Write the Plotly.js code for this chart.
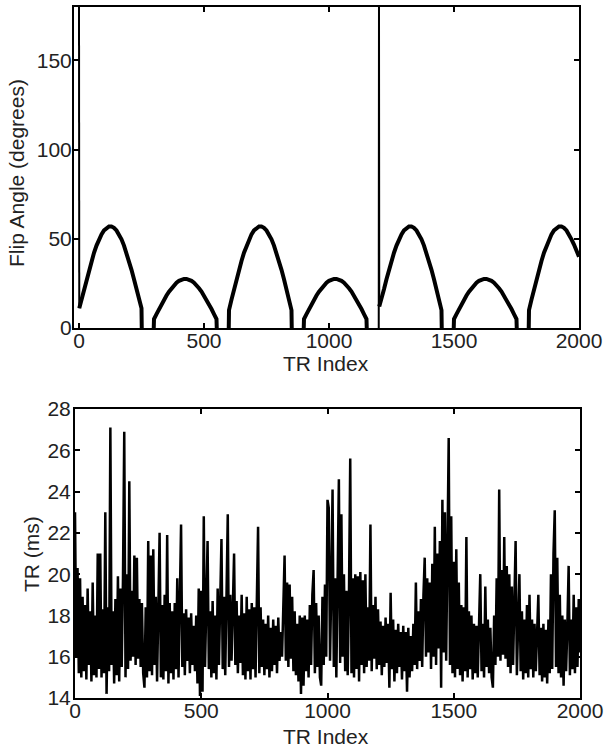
<!DOCTYPE html>
<html>
<head>
<meta charset="utf-8">
<script src="https://cdn.plot.ly/plotly-3.0.1.min.js"></script>
<style>html,body{margin:0;padding:0;background:#fff;}#chart{width:610px;height:750px;}</style>
</head>
<body>
<div id="chart"></div>
<script>
// ---- Flip angle series (TR index, degrees) ----
// null = stretch resting at 0 degrees between lobes (hidden under the axis line)
const faIndex = [
  0, 1, 10, 20, 30, 40, 50, 60, 70, 80, 90, 100, 110, 120, 130, 140, 150, 160, 170, 180, 190, 200, 210, 220, 230, 240, 250,
  251, 275, 299,
  300, 310, 320, 330, 340, 350, 360, 370, 380, 390, 400, 410, 420, 430, 440, 450, 460, 470, 480, 490, 500, 510, 520, 530, 540, 550,
  551, 575, 599,
  600, 610, 620, 630, 640, 650, 660, 670, 680, 690, 700, 710, 720, 730, 740, 750, 760, 770, 780, 790, 800, 810, 820, 830, 840, 850,
  851, 875, 899,
  900, 910, 920, 930, 940, 950, 960, 970, 980, 990, 1000, 1010, 1020, 1030, 1040, 1050, 1060, 1070, 1080, 1090, 1100, 1110, 1120, 1130, 1140, 1150,
  1151, 1175, 1199, 1200,
  1201, 1210, 1220, 1230, 1240, 1250, 1260, 1270, 1280, 1290, 1300, 1310, 1320, 1330, 1340, 1350, 1360, 1370, 1380, 1390, 1400, 1410, 1420, 1430, 1440, 1450,
  1451, 1475, 1499,
  1500, 1510, 1520, 1530, 1540, 1550, 1560, 1570, 1580, 1590, 1600, 1610, 1620, 1630, 1640, 1650, 1660, 1670, 1680, 1690, 1700, 1710, 1720, 1730, 1740, 1750,
  1751, 1775, 1799,
  1800, 1810, 1820, 1830, 1840, 1850, 1860, 1870, 1880, 1890, 1900, 1910, 1920, 1930, 1940, 1950, 1960, 1970, 1980, 1990, 2000
];
const faDeg = [
  180, 11, 15.9, 21.7, 27.3, 32.6, 37.6, 42.2, 46.2, 49.7, 52.5, 54.7, 56.2, 56.9, 56.9, 56.2, 54.7, 52.5, 49.7, 46.2, 42.2, 37.6, 32.6, 27.3, 21.7, 15.9, 11,
  0, null, 0,
  5, 7.8, 10.6, 13.3, 15.8, 18.2, 20.4, 22.3, 24.0, 25.4, 26.4, 27.1, 27.5, 27.5, 27.1, 26.4, 25.4, 24.0, 22.3, 20.4, 18.2, 15.8, 13.3, 10.6, 7.8, 5,
  0, null, 0,
  10, 15.9, 21.7, 27.3, 32.6, 37.6, 42.2, 46.2, 49.7, 52.5, 54.7, 56.2, 56.9, 56.9, 56.2, 54.7, 52.5, 49.7, 46.2, 42.2, 37.6, 32.6, 27.3, 21.7, 15.9, 10,
  0, null, 0,
  5, 7.8, 10.6, 13.3, 15.8, 18.2, 20.4, 22.3, 24.0, 25.4, 26.4, 27.1, 27.5, 27.5, 27.1, 26.4, 25.4, 24.0, 22.3, 20.4, 18.2, 15.8, 13.3, 10.6, 7.8, 5,
  0, null, 0, 180,
  12, 15.9, 21.7, 27.3, 32.6, 37.6, 42.2, 46.2, 49.7, 52.5, 54.7, 56.2, 56.9, 56.9, 56.2, 54.7, 52.5, 49.7, 46.2, 42.2, 37.6, 32.6, 27.3, 21.7, 15.9, 10,
  0, null, 0,
  5, 7.8, 10.6, 13.3, 15.8, 18.2, 20.4, 22.3, 24.0, 25.4, 26.4, 27.1, 27.5, 27.5, 27.1, 26.4, 25.4, 24.0, 22.3, 20.4, 18.2, 15.8, 13.3, 10.6, 7.8, 5,
  0, null, 0,
  10, 15.9, 21.7, 27.3, 32.6, 37.6, 42.2, 46.2, 49.7, 52.5, 54.7, 56.2, 56.9, 56.9, 56.2, 54.7, 52.5, 49.7, 46.8, 43.5, 40.0
];
const pulseDeg = 180;   // inversion pulses in the flip-angle train

// ---- TR series (ms), one reading every 5 TR indices from 0 to 2000 ----
const trStep = 5;
const trMs = [
  23.0,16.0,20.3,15.2,19.8,15.0,18.9,15.3,18.5,14.9,19.3,15.6,18.2,14.8,19.6,15.1,18.0,15.0,21.0,15.4,
  21.0,15.0,18.3,15.2,23.0,14.2,18.4,15.3,27.1,15.6,18.2,14.7,18.8,15.1,19.9,14.8,19.3,15.5,19.8,26.9,
  15.0,20.0,15.4,24.5,15.8,19.2,16.0,20.9,15.6,20.8,15.9,18.8,15.5,18.6,15.2,14.5,18.4,15.0,21.6,15.3,
  20.9,15.1,21.2,15.6,18.9,14.8,18.3,22.0,15.0,18.5,14.9,19.0,15.3,21.9,14.7,18.6,15.2,18.2,14.9,18.6,
  15.4,19.8,15.0,18.4,22.4,15.5,18.1,15.1,18.3,15.8,17.9,15.2,18.1,15.6,17.5,15.3,18.0,14.7,19.3,14.1,
  19.2,14.3,22.8,15.5,18.4,21.6,15.4,18.2,15.0,18.7,15.2,18.0,14.9,19.3,15.6,18.5,21.7,15.4,18.9,15.1,
  19.8,22.9,15.5,19.0,15.8,18.4,21.0,15.6,18.7,15.2,18.0,15.7,19.0,15.1,18.1,14.9,18.9,15.3,18.3,14.9,
  18.6,15.4,18.4,15.0,18.5,22.3,15.2,18.4,15.5,17.8,15.1,17.6,15.4,18.0,15.0,17.4,15.3,17.8,15.6,17.5,
  15.2,17.9,15.8,17.2,16.0,19.1,20.9,15.8,19.6,15.5,19.5,15.9,18.9,15.3,18.2,15.1,17.6,14.8,18.0,14.2,
  17.9,14.6,18.0,15.3,17.8,15.0,18.5,15.6,19.0,20.2,15.2,18.6,15.5,18.0,15.0,14.6,18.9,15.6,19.5,16.0,
  23.6,23.2,15.8,19.4,24.1,15.5,19.8,15.0,20.2,24.6,15.7,22.9,16.0,20.0,15.3,19.2,15.1,19.0,25.6,15.2,
  19.8,15.0,20.0,15.4,19.9,14.8,20.1,15.6,19.7,15.2,20.0,15.5,18.4,15.8,22.4,15.3,18.5,15.9,18.9,15.4,
  18.3,15.6,17.7,15.1,17.5,15.5,17.9,15.7,17.6,14.5,19.1,15.4,17.8,14.8,17.3,15.2,17.6,15.5,17.2,14.9,
  17.5,15.3,17.2,14.3,17.4,15.0,17.0,15.3,17.6,15.6,19.6,15.4,18.2,15.8,18.8,15.5,19.0,20.8,16.0,19.8,
  16.2,19.6,15.4,20.5,16.0,22.3,15.6,21.0,16.4,21.6,14.5,23.6,16.2,23.0,15.8,20.4,26.6,15.6,22.8,15.2,
  20.6,15.0,21.2,15.4,19.6,15.1,18.5,14.8,18.4,15.3,21.8,15.0,18.2,15.4,18.0,14.9,17.6,15.2,17.5,15.0,
  18.0,20.0,15.3,17.6,15.0,19.4,15.5,17.8,15.2,17.4,15.0,14.5,18.0,15.6,19.8,16.0,24.1,15.8,20.2,16.1,
  21.8,15.9,20.4,15.5,20.0,15.2,19.4,15.6,18.6,21.6,15.1,18.4,20.0,15.3,18.2,14.9,17.8,15.2,18.5,15.0,
  19.0,15.4,17.8,15.0,17.6,15.3,17.9,19.0,15.1,17.4,14.8,17.6,15.0,17.3,14.7,17.8,15.2,20.0,15.4,21.0,
  23.1,15.5,20.8,15.2,19.0,15.0,18.0,14.6,17.8,15.3,17.5,20.4,15.1,17.8,15.4,19.0,15.2,18.4,15.5,18.8,
  16.2
];
const trIndex = trMs.map((_, i) => i * trStep);

// ---- tick labels ----
const xTicks = [0, 500, 1000, 1500, 2000];
const faTicks = [0, 50, 100, 150];
const trTicks = [14, 16, 18, 20, 22, 24, 26, 28];

// Split the flip-angle train: the noisy lobes (drawn thick) and the
// pulse spikes with the steps into/out of them (drawn thin).
const lobeY = faDeg.map(v => (v === pulseDeg ? null : v));
const pulseX = [], pulseY = [];
faDeg.forEach((v, i) => {
  if (v !== pulseDeg) return;
  if (i > 0 && faDeg[i - 1] !== null) { pulseX.push(faIndex[i - 1]); pulseY.push(faDeg[i - 1]); }
  pulseX.push(faIndex[i]); pulseY.push(v);
  if (i < faDeg.length - 1) { pulseX.push(faIndex[i + 1]); pulseY.push(faDeg[i + 1]); }
  pulseX.push(null); pulseY.push(null);
});

const FONT = 'Liberation Sans, Arial, sans-serif';
const TXT = '#222';

const axisCommon = {
  showgrid: false, zeroline: false, showline: true, linecolor: '#000', linewidth: 2,
  mirror: 'allticks', ticks: 'inside', ticklen: 5, tickwidth: 2, tickcolor: '#000',
  tickfont: {family: FONT, size: 21, color: TXT}
};

const traces = [
  {x: faIndex, y: lobeY, xaxis: 'x', yaxis: 'y', type: 'scatter', mode: 'lines',
   connectgaps: false, line: {color: '#000', width: 4}, hoverinfo: 'skip'},
  {x: pulseX, y: pulseY, xaxis: 'x', yaxis: 'y', type: 'scatter', mode: 'lines',
   connectgaps: false, line: {color: '#000', width: 2}, hoverinfo: 'skip'},
  {x: trIndex, y: trMs, xaxis: 'x2', yaxis: 'y2', type: 'scatter', mode: 'lines',
   line: {color: '#000', width: 2.5}, hoverinfo: 'skip'}
];

const titleFont = {family: FONT, size: 21, color: TXT};
const layout = {
  width: 610, height: 750,
  margin: {l: 74, r: 30, t: 7, b: 52},
  paper_bgcolor: '#fff', plot_bgcolor: '#fff',
  showlegend: false,
  font: {family: FONT, size: 21, color: TXT},
  xaxis: Object.assign({}, axisCommon, {
    domain: [0, 0.998], anchor: 'y', range: [-20, 2000], tickvals: xTicks, ticklabelstandoff: -7
  }),
  yaxis: Object.assign({}, axisCommon, {
    domain: [0.5355, 1], anchor: 'x', range: [0, 180], tickvals: faTicks, ticklabelstandoff: -4
  }),
  xaxis2: Object.assign({}, axisCommon, {
    domain: [0.002, 1], anchor: 'y2', range: [0, 2000], tickvals: xTicks, ticklabelstandoff: -7
  }),
  yaxis2: Object.assign({}, axisCommon, {
    domain: [0, 0.4182], anchor: 'x2', range: [14, 28], tickvals: trTicks, ticklabelstandoff: -2
  }),
  annotations: [
    {text: 'TR Index', xref: 'paper', yref: 'paper', x: 0.498, y: 0.4834, xanchor: 'center', yanchor: 'middle', showarrow: false, font: titleFont},
    {text: 'TR Index', xref: 'paper', yref: 'paper', x: 0.498, y: -0.0550, xanchor: 'center', yanchor: 'middle', showarrow: false, font: titleFont},
    {text: 'Flip Angle (degrees)', xref: 'paper', yref: 'paper', x: -0.1126, y: 0.7598, xanchor: 'center', yanchor: 'middle', textangle: -90, showarrow: false, font: titleFont},
    {text: 'TR (ms)', xref: 'paper', yref: 'paper', x: -0.083, y: 0.2084, xanchor: 'center', yanchor: 'middle', textangle: -90, showarrow: false, font: titleFont}
  ]
};

Plotly.newPlot('chart', traces, layout, {displayModeBar: false, staticPlot: true});
</script>
</body>
</html>
